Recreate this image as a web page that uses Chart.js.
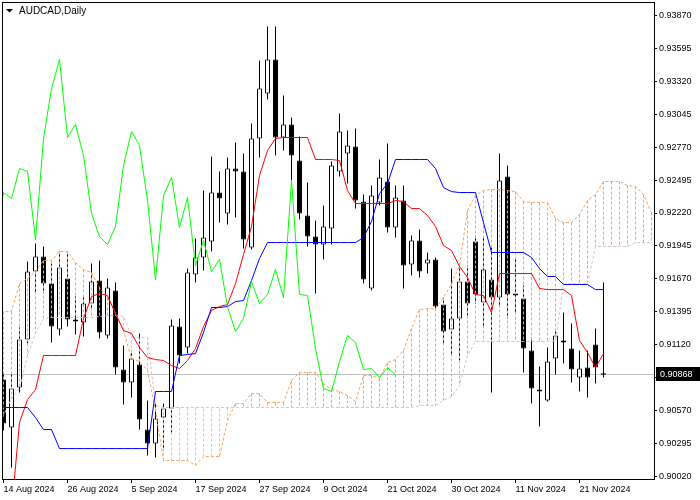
<!DOCTYPE html>
<html>
<head>
<meta charset="utf-8">
<title>AUDCAD,Daily</title>
<script src="https://cdn.jsdelivr.net/npm/chart.js@4.4.1/dist/chart.umd.min.js"></script>
<style>
  html, body { margin: 0; padding: 0; background: #fff; }
</style>
</head>
<body>
<canvas id="chart" width="700" height="500"></canvas>
<script>
// AUDCAD daily bars, 14 Aug .. 25 Nov 2024 (bar index 0..75)
const opens = [
  0.90828, 0.90427, 0.90761, 0.91162, 0.91731, 0.91856, 0.91630, 0.91246, 0.91672, 0.91330,
  0.91304, 0.91463, 0.91656, 0.91196, 0.91572, 0.90912, 0.90803, 0.90953, 0.90410, 0.90293,
  0.90510, 0.90586, 0.91271, 0.91096, 0.91706, 0.91848, 0.91982, 0.92391, 0.92216, 0.92592,
  0.92567, 0.91931, 0.92843, 0.93219, 0.93503, 0.92851, 0.92960, 0.92659, 0.92199, 0.92023,
  0.91956, 0.92090, 0.92567, 0.92717, 0.92776, 0.92316, 0.91589, 0.92308, 0.92483, 0.92099,
  0.92324, 0.91789, 0.91990, 0.91798, 0.91831, 0.91455, 0.91246, 0.91338, 0.91647, 0.91982,
  0.91472, 0.91664, 0.91513, 0.92525, 0.91547, 0.91505, 0.91070, 0.90744, 0.90653, 0.91004,
  0.91154, 0.91087, 0.90845, 0.90928, 0.91121, 0.90880
];
const highs = [
  0.90887, 0.90878, 0.91263, 0.91814, 0.91965, 0.91940, 0.91798, 0.91898, 0.91890, 0.91522,
  0.91522, 0.91798, 0.91823, 0.91672, 0.91639, 0.91112, 0.91070, 0.91213, 0.90653, 0.90627,
  0.90627, 0.91330, 0.91338, 0.91756, 0.92007, 0.92408, 0.92692, 0.92567, 0.92684, 0.92809,
  0.92717, 0.92968, 0.93495, 0.93779, 0.93779, 0.93202, 0.93018, 0.92859, 0.92475, 0.92157,
  0.92282, 0.92650, 0.93052, 0.92909, 0.92926, 0.92374, 0.92450, 0.92667, 0.92801, 0.92450,
  0.92450, 0.92032, 0.92082, 0.91890, 0.91848, 0.91488, 0.91756, 0.91756, 0.91781, 0.92032,
  0.92015, 0.91931, 0.92717, 0.92617, 0.91839, 0.91614, 0.91179, 0.90937, 0.91096, 0.91229,
  0.91388, 0.91296, 0.91070, 0.91070, 0.91254, 0.91639
];
const lows = [
  0.90402, 0.90092, 0.90719, 0.91129, 0.91555, 0.91547, 0.91137, 0.91196, 0.91271, 0.91204,
  0.91187, 0.91421, 0.91171, 0.91171, 0.90870, 0.90619, 0.90678, 0.90410, 0.90193, 0.90176,
  0.90235, 0.90385, 0.90962, 0.91045, 0.91639, 0.91739, 0.91898, 0.92140, 0.92124, 0.92182,
  0.91923, 0.91915, 0.92684, 0.93169, 0.92700, 0.92742, 0.92491, 0.92165, 0.91940, 0.91547,
  0.91831, 0.91956, 0.92525, 0.92466, 0.92257, 0.91630, 0.91572, 0.92282, 0.92057, 0.92015,
  0.91589, 0.91697, 0.91681, 0.91714, 0.91405, 0.91129, 0.91029, 0.90987, 0.91363, 0.91463,
  0.91263, 0.90719, 0.91447, 0.91338, 0.91388, 0.90887, 0.90627, 0.90435, 0.90644, 0.90870,
  0.90962, 0.90803, 0.90728, 0.90678, 0.90795, 0.90845
];
const closes = [
  0.90460, 0.90753, 0.91162, 0.91731, 0.91856, 0.91630, 0.91271, 0.91764, 0.91330, 0.91313,
  0.91463, 0.91647, 0.91221, 0.91597, 0.90928, 0.90803, 0.91004, 0.90494, 0.90293, 0.90502,
  0.90586, 0.91279, 0.91029, 0.91722, 0.91848, 0.92015, 0.92391, 0.92341, 0.92592, 0.92567,
  0.91998, 0.92843, 0.93260, 0.93503, 0.92851, 0.92960, 0.92700, 0.92216, 0.92023, 0.91956,
  0.92107, 0.92617, 0.92901, 0.92784, 0.92324, 0.91664, 0.92366, 0.92517, 0.92099, 0.92349,
  0.91781, 0.91990, 0.91731, 0.91831, 0.91438, 0.91229, 0.91338, 0.91647, 0.91463, 0.91539,
  0.91748, 0.91513, 0.92491, 0.91539, 0.91530, 0.91087, 0.90753, 0.90728, 0.90978, 0.91196,
  0.91137, 0.90912, 0.90920, 0.90845, 0.90928, 0.90868
];

// Ichimoku lines
// Tenkan-sen, bars 0..75
const tenkan = [
  0.89691, 0.89733, 0.90469, 0.90661, 0.90744, 0.91029, 0.91029, 0.91029, 0.91029, 0.91029,
  0.91338, 0.91522, 0.91547, 0.91530, 0.91380, 0.91238, 0.91213, 0.91096, 0.91012, 0.90995,
  0.90987, 0.90945, 0.90920, 0.90987, 0.91087, 0.91271, 0.91405, 0.91438, 0.91455, 0.91630,
  0.91873, 0.92107, 0.92533, 0.92742, 0.92843, 0.92851, 0.92851, 0.92851, 0.92851, 0.92667,
  0.92667, 0.92667, 0.92659, 0.92408, 0.92299, 0.92299, 0.92299, 0.92299, 0.92299, 0.92324,
  0.92316, 0.92257, 0.92257, 0.92199, 0.92107, 0.91948, 0.91906, 0.91773, 0.91681, 0.91539,
  0.91530, 0.91388, 0.91714, 0.91714, 0.91714, 0.91714, 0.91714, 0.91589, 0.91580, 0.91580,
  0.91580, 0.91530, 0.91154, 0.91054, 0.90928, 0.91045
];
// Kijun-sen, bars -1..75
const kijun = [
  0.90594, 0.90594, 0.90594, 0.90594, 0.90594, 0.90510, 0.90410, 0.90410,
  0.90251, 0.90251, 0.90251, 0.90251, 0.90251, 0.90251, 0.90251, 0.90251, 0.90251, 0.90251, 0.90251, 0.90251,
  0.90728, 0.90728, 0.90728, 0.91029, 0.91037, 0.91045, 0.91221, 0.91430, 0.91430, 0.91438,
  0.91480, 0.91488, 0.91656, 0.91839,
  0.91973, 0.91973, 0.91973, 0.91973, 0.91973, 0.91973, 0.91973, 0.91973, 0.91973, 0.91973, 0.91973, 0.91973,
  0.92015, 0.92149, 0.92383, 0.92466, 0.92667, 0.92667, 0.92667, 0.92667, 0.92667, 0.92592,
  0.92433, 0.92399, 0.92391, 0.92391, 0.92391, 0.92140, 0.91890, 0.91890, 0.91890, 0.91890,
  0.91890, 0.91848, 0.91756, 0.91689, 0.91689, 0.91622, 0.91622, 0.91622, 0.91622, 0.91580,
  0.91580
];
// Senkou Span A / B, bars -1..81 (already shifted forward)
const spanA = [
  0.91396, 0.91396, 0.91396, 0.91630, 0.91672, 0.91731, 0.91823, 0.91823, 0.91898, 0.91898,
  0.91806, 0.91748, 0.91722, 0.91597, 0.91513, 0.91380, 0.91238, 0.91004, 0.90978, 0.90903,
  0.90569, 0.90151, 0.90151, 0.90151, 0.90151, 0.90109, 0.90184, 0.90184, 0.90184, 0.90485,
  0.90627, 0.90627, 0.90711, 0.90711, 0.90636, 0.90636, 0.90636, 0.90820, 0.90887, 0.90887,
  0.90887, 0.90795, 0.90744, 0.90728, 0.90694, 0.90644, 0.90861, 0.90861, 0.90836, 0.90970,
  0.90995, 0.91070, 0.91254, 0.91413, 0.91421, 0.91421, 0.91513, 0.91630, 0.91781, 0.92241,
  0.92366, 0.92408, 0.92416, 0.92416, 0.92408, 0.92399, 0.92316, 0.92308, 0.92308, 0.92308,
  0.92174, 0.92140, 0.92140, 0.92207, 0.92324, 0.92374, 0.92483, 0.92483, 0.92483, 0.92450,
  0.92441, 0.92374, 0.92224
];
const spanB = [
  0.90402, 0.90527, 0.90669, 0.90753, 0.91029, 0.91213, 0.91338, 0.91346, 0.91346, 0.91346,
  0.91346, 0.91346, 0.91346, 0.91355, 0.91363, 0.91363, 0.91355, 0.91187, 0.91179, 0.91179,
  0.90611, 0.90594, 0.90594, 0.90594, 0.90594, 0.90594, 0.90594, 0.90594, 0.90594, 0.90594,
  0.90594, 0.90594, 0.90594, 0.90594, 0.90594, 0.90594, 0.90594, 0.90594, 0.90594, 0.90594,
  0.90594, 0.90594, 0.90594, 0.90594, 0.90594, 0.90594, 0.90594, 0.90594, 0.90594, 0.90594,
  0.90594, 0.90594, 0.90594, 0.90611, 0.90611, 0.90611, 0.90653, 0.90686, 0.90778, 0.91029,
  0.91146, 0.91146, 0.91146, 0.91146, 0.91146, 0.91146, 0.91146, 0.91146, 0.91146, 0.91146,
  0.91154, 0.91622, 0.91630, 0.91630, 0.91630, 0.91940, 0.91940, 0.91940, 0.91940, 0.91940,
  0.91973, 0.91973, 0.91973
];

// axis labels
const xTickPos = [0, 8, 16, 24, 32, 40, 48, 56, 64, 72];
const xTickLabels = ['14 Aug 2024', '26 Aug 2024', '5 Sep 2024', '17 Sep 2024', '27 Sep 2024',
  '9 Oct 2024', '21 Oct 2024', '30 Oct 2024', '11 Nov 2024', '21 Nov 2024'];
const yTicks = [0.90020, 0.90295, 0.90570, 0.90845, 0.91120, 0.91395, 0.91670, 0.91945,
  0.92220, 0.92495, 0.92770, 0.93045, 0.93320, 0.93595, 0.93870];

const KIJUN_START = -1;
const SPAN_START = -1;
const CHIKOU_SHIFT = 26;

// visible window of the terminal
const X_MIN = -0.1875, X_MAX = 81.3125;
const Y_MIN = 0.899966, Y_MAX = 0.939837;

const SANDY = '#f4a460';
const THISTLE = '#d8bfd8';
const FONT = '"Liberation Sans", Arial, sans-serif';

Chart.defaults.font.family = FONT;
Chart.defaults.font.size = 9;
Chart.defaults.color = '#000';

const toPoints = (vals, start) => vals.map((v, k) => ({ x: k + start, y: v }));

const wicks = highs.map((h, i) => ({ x: i, y: [lows[i], h] }));
const bodies = opens.map((o, i) => ({ x: i, y: [o, closes[i]] }));
const bodyFill = opens.map((o, i) => (closes[i] >= o ? '#ffffff' : '#000000'));

// kumo hatch: one dotted vertical stroke per bar between span A and span B,
// split into the up-cloud (A above B) and the down-cloud, strokes separated by nulls
function hatchStrokes(up) {
  const pts = [];
  spanA.forEach((a, k) => {
    if ((a >= spanB[k]) !== up) return;
    const x = k + SPAN_START;
    pts.push({ x, y: a }, { x, y: spanB[k] }, { x, y: null });
  });
  return pts;
}

// Chikou span = close plotted 26 bars back
const chikou = closes.slice(CHIKOU_SHIFT - 1).map((c, k) => ({ x: k - 1, y: c }));

const lastClose = closes[closes.length - 1];

const terminalDecor = {
  id: 'terminalDecor',
  beforeDatasetsDraw(chart) {
    const { ctx, chartArea: a, scales: { y } } = chart;
    const py = Math.floor(y.getPixelForValue(lastClose)) + 0.5;
    ctx.save();
    ctx.strokeStyle = '#c0c0c0';
    ctx.lineWidth = 1;
    ctx.beginPath();
    ctx.moveTo(a.left, py);
    ctx.lineTo(a.right, py);
    ctx.stroke();
    ctx.restore();
  },
  afterDraw(chart) {
    const { ctx, chartArea: a, scales: { y } } = chart;
    ctx.save();
    ctx.strokeStyle = '#000';
    ctx.lineWidth = 1;
    ctx.strokeRect(a.left + 0.5, a.top + 0.5, a.right - a.left, a.bottom - a.top);

    // last price tag
    const py = Math.floor(y.getPixelForValue(lastClose));
    ctx.fillStyle = '#000';
    ctx.fillRect(a.right + 2, py - 7, 44, 14);
    ctx.fillStyle = '#fff';
    ctx.font = '9px ' + FONT;
    ctx.textBaseline = 'middle';
    ctx.fillText(lastClose.toFixed(5), a.right + 6, py + 1);

    // symbol caption
    ctx.fillStyle = '#000';
    ctx.beginPath();
    ctx.moveTo(6, 9);
    ctx.lineTo(13, 9);
    ctx.lineTo(9.5, 12.5);
    ctx.closePath();
    ctx.fill();
    ctx.font = '10px ' + FONT;
    ctx.textBaseline = 'middle';
    ctx.fillText('AUDCAD,Daily', 19, 11);
    ctx.restore();
  }
};

new Chart(document.getElementById('chart'), {
  type: 'bar',
  data: {
    datasets: [
      { type: 'line', label: 'Chikou Span', data: chikou, borderColor: '#00ff00', order: 1 },
      { type: 'line', label: 'Kijun-sen', data: toPoints(kijun, KIJUN_START), borderColor: '#0000ff', order: 2 },
      { type: 'line', label: 'Tenkan-sen', data: toPoints(tenkan, 0), borderColor: '#ff0000', order: 3 },
      { type: 'line', label: 'Senkou Span A', data: toPoints(spanA, SPAN_START), borderColor: SANDY, borderDash: [3, 2], order: 4 },
      { type: 'line', label: 'Senkou Span B', data: toPoints(spanB, SPAN_START), borderColor: THISTLE, borderDash: [3, 2], order: 5 },
      { type: 'line', label: 'Kumo up', data: hatchStrokes(true), borderColor: SANDY, borderDash: [3, 2], spanGaps: false, order: 6 },
      { type: 'line', label: 'Kumo down', data: hatchStrokes(false), borderColor: THISTLE, borderDash: [3, 2], spanGaps: false, order: 6 },
      { type: 'bar', label: 'Body', data: bodies, backgroundColor: bodyFill, borderColor: '#000', borderWidth: 1, borderSkipped: false, barThickness: 5, order: 7 },
      { type: 'bar', label: 'Wick', data: wicks, backgroundColor: '#000', barThickness: 1, order: 8 }
    ]
  },
  options: {
    responsive: false,
    animation: false,
    events: [],
    devicePixelRatio: 1,
    layout: { padding: { left: 2, top: 2, right: 0, bottom: 0 } },
    plugins: {
      legend: { display: false },
      tooltip: { enabled: false }
    },
    elements: {
      point: { radius: 0 },
      line: { borderWidth: 1, tension: 0, fill: false }
    },
    datasets: {
      bar: { grouped: false, inflateAmount: 0 }
    },
    scales: {
      x: {
        type: 'linear',
        min: X_MIN,
        max: X_MAX,
        bounds: 'data',
        offset: false,
        grid: { drawOnChartArea: false, drawTicks: true, tickLength: 4, color: '#000', offset: false },
        border: { display: false },
        ticks: {
          autoSkip: false,
          maxRotation: 0,
          align: 'start',
          padding: 1,
          color: '#000',
          callback: v => xTickLabels[xTickPos.indexOf(v)] ?? ''
        },
        afterBuildTicks: s => { s.ticks = xTickPos.map(v => ({ value: v })); },
        afterFit: s => { s.height = 21; s.paddingLeft = 0; s.paddingRight = 0; }
      },
      y: {
        position: 'right',
        min: Y_MIN,
        max: Y_MAX,
        bounds: 'data',
        beginAtZero: false,
        grace: 0,
        grid: { drawOnChartArea: false, drawTicks: true, tickLength: 3, color: '#000' },
        border: { display: false },
        ticks: {
          crossAlign: 'near',
          padding: 2,
          color: '#000',
          callback: v => v.toFixed(5)
        },
        afterBuildTicks: s => { s.ticks = yTicks.map(v => ({ value: v })); },
        afterFit: s => { s.width = 46; s.paddingTop = 0; s.paddingBottom = 0; }
      }
    }
  },
  plugins: [terminalDecor]
});
</script>
</body>
</html>
